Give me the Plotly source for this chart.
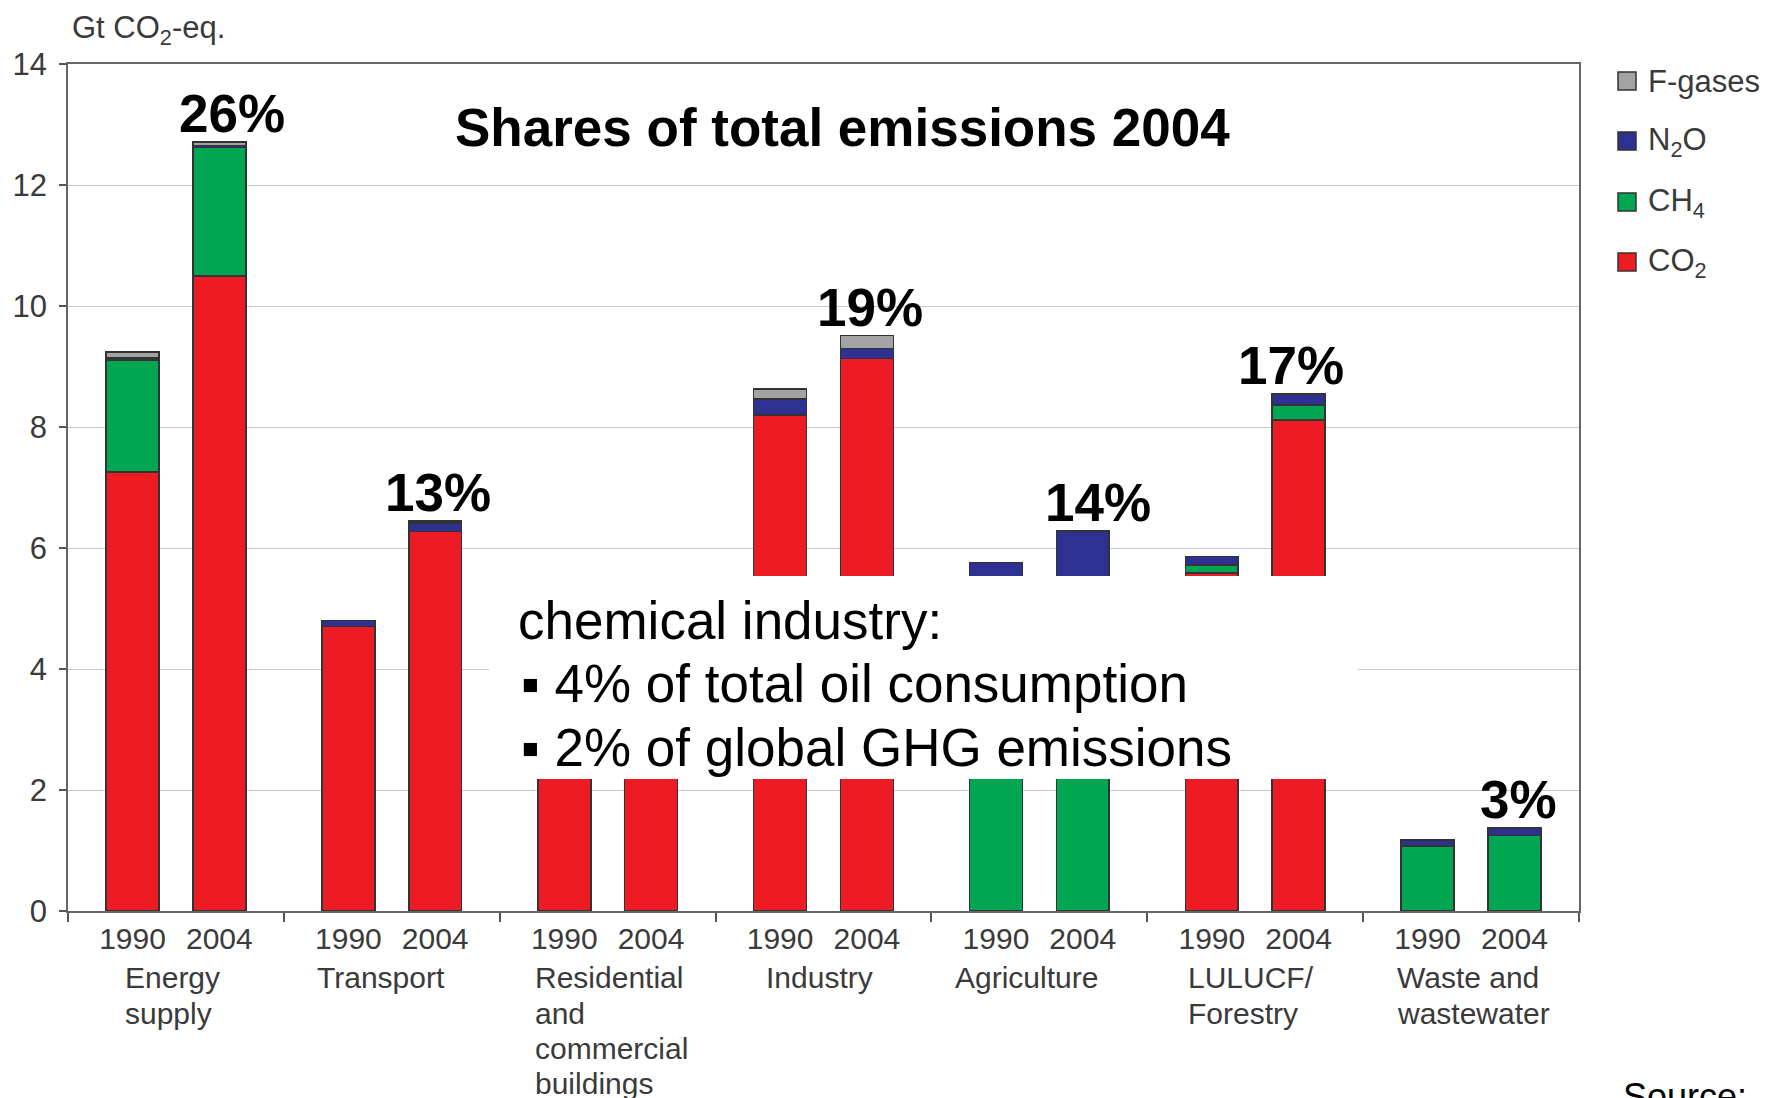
import plotly.graph_objects as go

# ---------------- data ----------------
sectors = ["Energy<br>supply", "Transport", "Residential<br>and<br>commercial<br>buildings",
           "Industry", "Agriculture", "LULUCF/<br>Forestry", "Waste and<br>wastewater"]
years = ["1990", "2004"]
shares_2004 = ["26%", "13%", "", "19%", "14%", "17%", "3%"]

co2_1990 = [7.26, 4.70, 2.95, 8.20, 0.00, 5.59, 0.00]
co2_2004 = [10.50, 6.27, 3.20, 9.13, 0.00, 8.12, 0.00]
ch4_1990 = [1.85, 0.00, 0.25, 0.00, 3.00, 0.13, 1.07]
ch4_2004 = [2.12, 0.00, 0.30, 0.00, 3.30, 0.24, 1.25]
n2o_1990 = [0.03, 0.10, 0.05, 0.26, 2.76, 0.14, 0.10]
n2o_2004 = [0.03, 0.14, 0.06, 0.17, 2.98, 0.19, 0.12]
fgas_1990 = [0.10, 0.00, 0.05, 0.17, 0.00, 0.00, 0.00]
fgas_2004 = [0.06, 0.04, 0.25, 0.21, 0.00, 0.00, 0.00]

gas_names = ["CO<sub>2</sub>", "CH<sub>4</sub>", "N<sub>2</sub>O", "F-gases"]
gas_colors = ["#ED1C24", "#00A651", "#2E3192", "#A3A3A3"]

# ---------------- layout helpers ----------------
W, H = 1771, 1098
L, R, T, B = 68, 1579, 64, 911
def pxx(px):
    return (px - L) / (R - L)
def pxy(py):
    return (B - py) / (B - T)

ARIAL = "Liberation Sans, Arial, sans-serif"
TXT = "#3a3a3a"

off = 0.201
bw = 0.245
xpos = []
for i in range(len(sectors)):
    xpos += [i + 0.5 - off, i + 0.5 + off]

def inter(a, b):
    out = []
    for u, v in zip(a, b):
        out += [u, v]
    return out

series = [inter(co2_1990, co2_2004), inter(ch4_1990, ch4_2004),
          inter(n2o_1990, n2o_2004), inter(fgas_1990, fgas_2004)]

fig = go.Figure()
for name, col, vals in zip(gas_names, gas_colors, series):
    fig.add_trace(go.Bar(x=xpos, y=vals, name=name, width=bw,
                         marker=dict(color=col, line=dict(color="#333333", width=1.6)),
                         showlegend=False))

totals_2004 = [a + b + c + d for a, b, c, d in zip(co2_2004, ch4_2004, n2o_2004, fgas_2004)]

annotations = []
shapes = []

# percent labels
pct_xshift = [13, 3, 0, 3, 15, -8, 4]
for i, s in enumerate(shares_2004):
    if not s:
        continue
    annotations.append(dict(x=i + 0.5 + off, y=totals_2004[i], xref="x", yref="y",
                            text="<b>%s</b>" % s, showarrow=False, xanchor="center", yanchor="bottom",
                            xshift=pct_xshift[i], yshift=-3,
                            font=dict(family=ARIAL, size=53, color="black")))

# group labels (left aligned under first bar), one annotation per line
grp_xshift = [17, -7, -5, 10, -17, 1, -6]
for i, s in enumerate(sectors):
    for k, line in enumerate(s.split("<br>")):
        annotations.append(dict(x=i + 0.5 - off - bw / 2, y=pxy(978 + 35 * k), xref="x", yref="paper",
                                text=line, showarrow=False, xanchor="left", yanchor="middle",
                                xshift=grp_xshift[i],
                                font=dict(family=ARIAL, size=30, color=TXT)))

# y axis unit
annotations.append(dict(x=pxx(70), y=pxy(30), xref="paper", yref="paper", xanchor="left",
                        yanchor="middle", showarrow=False, text="Gt CO<sub>2</sub>-eq.",
                        font=dict(family=ARIAL, size=31, color=TXT)))

# title
annotations.append(dict(x=pxx(843), y=pxy(128), xref="paper", yref="paper", showarrow=False,
                        xanchor="center", yanchor="middle",
                        text="<b>Shares of total emissions 2004</b>",
                        font=dict(family=ARIAL, size=53, color="black")))

# white box with chemical industry note
shapes.append(dict(type="rect", xref="paper", yref="paper", x0=pxx(489), x1=pxx(1358),
                   y0=pxy(779), y1=pxy(576), fillcolor="white", line=dict(width=0), layer="above"))
box_lines = ["chemical industry:", "\u25aa 4% of total oil consumption", "\u25aa 2% of global GHG emissions"]
box_x = [516, 519, 519]
for k, line in enumerate(box_lines):
    annotations.append(dict(x=pxx(box_x[k]), y=pxy(620 + 63.5 * k), xref="paper", yref="paper",
                            xanchor="left", yanchor="middle", showarrow=False, text=line,
                            font=dict(family=ARIAL, size=53, color="black")))

# manual legend
leg_y = [81, 141, 202, 262]
for k, gi in enumerate([3, 2, 1, 0]):
    cy = leg_y[k]
    shapes.append(dict(type="rect", xref="paper", yref="paper", x0=pxx(1618), x1=pxx(1636),
                       y0=pxy(cy + 9), y1=pxy(cy - 9), fillcolor=gas_colors[gi],
                       line=dict(color="#333333", width=1.5)))
    annotations.append(dict(x=pxx(1646), y=pxy(cy + 1), xref="paper", yref="paper", xanchor="left",
                            yanchor="middle", showarrow=False, text=gas_names[gi],
                            font=dict(family=ARIAL, size=31, color=TXT)))

# source (cut off at bottom)
annotations.append(dict(x=pxx(1621), y=pxy(1074), xref="paper", yref="paper", xanchor="left",
                        yanchor="top", showarrow=False, text="Source:",
                        font=dict(family=ARIAL, size=36, color="black")))

fig.update_layout(
    width=W, height=H, barmode="stack",
    margin=dict(l=L, r=W - R, t=T, b=H - B, pad=0),
    paper_bgcolor="white", plot_bgcolor="white",
    annotations=annotations, shapes=shapes, showlegend=False,
    xaxis=dict(range=[0, 7], tickmode="array", tickvals=xpos, ticktext=years * len(sectors),
               ticks="", showgrid=False, zeroline=False, showline=True, linecolor="#666666",
               linewidth=1.5, mirror=True,
               tickfont=dict(family=ARIAL, size=30, color=TXT),
               minor=dict(tickmode="array", tickvals=list(range(0, 8)), ticks="outside",
                          ticklen=9, tickcolor="#555555", tickwidth=1.5, showgrid=False)),
    yaxis=dict(range=[0, 14], tickmode="array", tickvals=list(range(0, 15, 2)),
               ticks="outside", ticklen=7, tickcolor="#555555", tickwidth=1.5,
               showgrid=True, gridcolor="#c8c8c8", gridwidth=1.2, zeroline=False,
               showline=True, linecolor="#666666", linewidth=1.5, mirror=True,
               ticklabelstandoff=6,
               tickfont=dict(family=ARIAL, size=31, color=TXT)),
)

fig.write_html("out.html")
